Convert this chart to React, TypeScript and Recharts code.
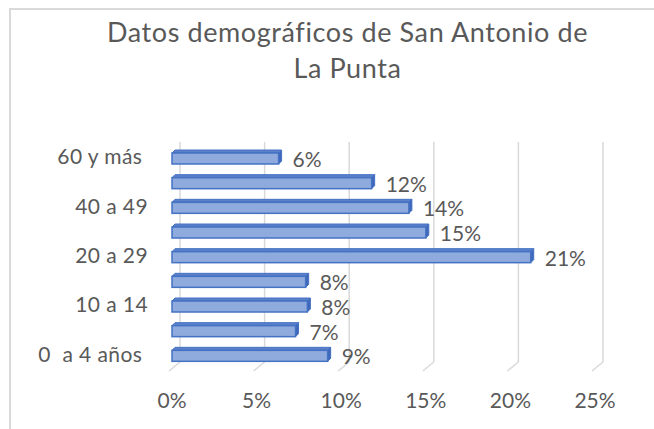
import { BarChart, Bar, XAxis, YAxis, CartesianGrid, LabelList } from "recharts";

// Grupos de edad (de arriba hacia abajo)
const grupos = [
  "60 y más ",
  "50 a 59",
  "40 a 49",
  "30 a 39",
  "20 a 29",
  "15 a 19",
  "10 a 14",
  "5 a 9",
  "0  a 4 años ",
];
// Porcentaje de población por grupo
const porcentajes = [6.3, 11.8, 14.0, 15.0, 21.2, 7.9, 8.0, 7.3, 9.2];
const ticksX = [0, 5, 10, 15, 20, 25];
const titulo = ["Datos demográficos de San Antonio de", "La Punta"];

const data = grupos.map((name, i) => ({ name, value: porcentajes[i] }));

const FONT = "Lato, 'Open Sans', sans-serif";
const GRIS = "#595959";

// barra con efecto 3D simple
const Barra3D = (props: any) => {
  const { x, y, width, height } = props;
  const d = 3;
  return (
    <g>
      <polygon
        points={`${x},${y + d} ${x + d},${y} ${x + width + d},${y} ${x + width},${y + d}`}
        fill="#5B7FC9"
        stroke="#4472C4"
        strokeWidth={1}
      />
      <polygon
        points={`${x + width},${y + d} ${x + width + d},${y} ${x + width + d},${y + height - d} ${x + width},${y + height}`}
        fill="#3F66B8"
        stroke="#4472C4"
        strokeWidth={1}
      />
      <rect
        x={x}
        y={y + d}
        width={width}
        height={height - d}
        fill="#8FAADC"
        stroke="#4472C4"
        strokeWidth={1.5}
      />
    </g>
  );
};

// línea de cuadrícula al fondo con pie inclinado
const LineaFondo = (props: any) => {
  const { x1, y1, y2 } = props;
  return (
    <g key={props.key}>
      <line x1={x1 + 8} y1={y1 - 3} x2={x1 + 8} y2={y2 - 5} stroke="#D9D9D9" strokeWidth={1.5} />
      <line x1={x1 + 8} y1={y2 - 5} x2={x1 - 3} y2={y2 + 4} stroke="#D9D9D9" strokeWidth={1.5} />
    </g>
  );
};

const TickY = (props: any) => {
  const { x, y, payload } = props;
  return (
    <text
      x={x}
      y={y}
      dx={-16}
      dy={7}
      textAnchor="end"
      fill={GRIS}
      fontSize={21}
      fontFamily={FONT}
      letterSpacing={0.4}
      xmlSpace="preserve"
      style={{ whiteSpace: "pre" }}
    >
      {payload.value}
    </text>
  );
};

const Etiqueta = (props: any) => {
  const { x, y, width, height, value } = props;
  return (
    <text
      x={x + width + 14}
      y={y + height / 2 + 10}
      fill={GRIS}
      fontSize={21}
      fontFamily={FONT}
    >
      {Math.round(value)}%
    </text>
  );
};

export default function App() {
  return (
    <div
      style={{
        position: "absolute",
        top: 0,
        left: 0,
        width: 654,
        height: 429,
        overflow: "hidden",
        background: "#fff",
      }}
    >
      <div
        style={{
          position: "absolute",
          left: 9,
          top: 8,
          width: 700,
          height: 500,
          border: "2px solid #D9D9D9",
        }}
      />
      {titulo.map((linea, i) => (
        <div
          key={i}
          style={{
            position: "absolute",
            left: 0,
            top: 18 + i * 36,
            width: 695,
            height: 28,
            textAlign: "center",
            fontFamily: FONT,
            fontSize: 27,
            lineHeight: "28px",
            letterSpacing: 0.6,
            color: GRIS,
            whiteSpace: "nowrap",
          }}
        >
          {linea}
        </div>
      ))}
      <div style={{ position: "absolute", left: 0, top: 0 }}>
        <BarChart
          width={654}
          height={429}
          data={data}
          layout="vertical"
          barSize={14}
          margin={{ top: 145, right: 59, left: 0, bottom: 32 }}
        >
          <CartesianGrid horizontal={false} vertical={LineaFondo} />
          <XAxis
            type="number"
            domain={[0, 25]}
            ticks={ticksX}
            tickFormatter={(v: number) => `${v}%`}
            axisLine={false}
            tickLine={false}
            height={30}
            tick={{ fill: GRIS, fontSize: 21, fontFamily: FONT, dy: 18 }}
          />
          <YAxis
            type="category"
            dataKey="name"
            width={172}
            interval={1}
            axisLine={false}
            tickLine={false}
            tick={<TickY />}
          />
          <Bar dataKey="value" shape={<Barra3D />} isAnimationActive={false}>
            <LabelList dataKey="value" content={<Etiqueta />} />
          </Bar>
        </BarChart>
      </div>
    </div>
  );
}
